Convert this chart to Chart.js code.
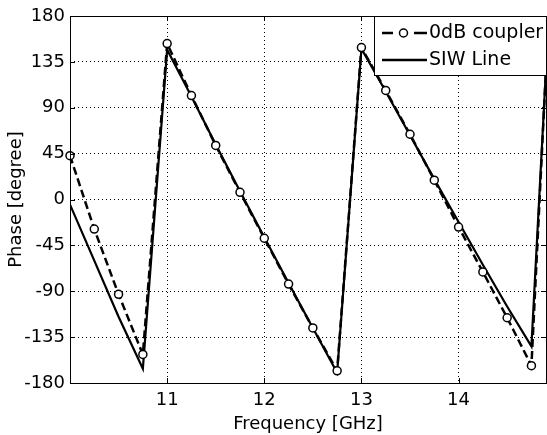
<!DOCTYPE html>
<html>
<head>
<meta charset="utf-8">
<script src="https://cdn.jsdelivr.net/npm/chart.js@4"></script>
<style>
html,body{margin:0;padding:0;background:#fff;}
#wrap{width:547px;height:435px;position:relative;}
</style>
</head>
<body>
<div id="wrap"><canvas id="c" width="547" height="435"></canvas></div>
<script>
const freqGHz = [10, 10.25, 10.5, 10.75, 11, 11.25, 11.5, 11.75, 12, 12.25, 12.5, 12.75, 13, 13.25, 13.5, 13.75, 14, 14.25, 14.5, 14.75, 14.9];
const couplerPhase = [43, -29, -93, -152, 153, 102, 53, 7, -38, -83, -126, -168, 149, 107, 64, 19, -27, -71, -116, -163, 128];
const siwPhase = [-5, -60, -115, -166, 147, 101, 54, 8, -37, -82, -126, -170, 148, 106, 63, 20, -22, -64, -105, -144, 128];
const xTicks = [11, 12, 13, 14];
const yTicks = [-180, -135, -90, -45, 0, 45, 90, 135, 180];
const seriesNames = ["0dB coupler", "SIW Line"];

const FONT = "'DejaVu Sans', sans-serif";
const toPts = (ys) => freqGHz.map((f, i) => ({x: f, y: ys[i]}));

const framePlugin = {
  id: 'frame',
  afterDatasetsDraw(chart) {
    const {ctx, chartArea: a, scales} = chart;
    ctx.save();
    ctx.strokeStyle = '#000';
    ctx.lineWidth = 1;
    ctx.setLineDash([]);
    ctx.beginPath();
    xTicks.forEach(t => {
      const px = Math.round(scales.x.getPixelForValue(t)) + 0.5;
      ctx.moveTo(px, a.bottom); ctx.lineTo(px, a.bottom - 5);
      ctx.moveTo(px, a.top); ctx.lineTo(px, a.top + 5);
    });
    yTicks.forEach(t => {
      const py = Math.round(scales.y.getPixelForValue(t)) + 0.5;
      ctx.moveTo(a.left, py); ctx.lineTo(a.left + 5, py);
      ctx.moveTo(a.right, py); ctx.lineTo(a.right - 5, py);
    });
    ctx.stroke();
    ctx.strokeRect(Math.round(a.left) + 0.5, Math.round(a.top) + 0.5, Math.round(a.right - a.left), Math.round(a.bottom - a.top));
    // legend
    const lx = 374, ly = Math.round(a.top), lw = Math.round(a.right) - lx, lh = 59;
    ctx.fillStyle = '#fff';
    ctx.fillRect(lx + 0.5, ly + 0.5, lw, lh);
    ctx.strokeRect(lx + 0.5, ly + 0.5, lw, lh);
    const rows = [ly + 17, ly + 44];
    ctx.lineWidth = 2.5;
    ctx.beginPath();
    ctx.moveTo(382, rows[0]); ctx.lineTo(393, rows[0]);
    ctx.moveTo(414, rows[0]); ctx.lineTo(427, rows[0]);
    ctx.stroke();
    ctx.lineWidth = 1.5;
    ctx.fillStyle = '#fff';
    ctx.beginPath(); ctx.arc(403.5, rows[0], 4, 0, Math.PI * 2); ctx.fill(); ctx.stroke();
    ctx.lineWidth = 2.5;
    ctx.beginPath(); ctx.moveTo(382, rows[1]); ctx.lineTo(427, rows[1]); ctx.stroke();
    ctx.fillStyle = '#000';
    ctx.font = '19px ' + FONT;
    ctx.textBaseline = 'middle';
    ctx.textAlign = 'left';
    ctx.fillText(seriesNames[0], 429, rows[0]);
    ctx.fillText(seriesNames[1], 429, rows[1]);
    ctx.restore();
  }
};

new Chart(document.getElementById('c'), {
  type: 'line',
  data: {
    datasets: [
      {
        label: seriesNames[0],
        data: toPts(couplerPhase),
        borderColor: '#000',
        borderWidth: 2.5,
        borderDash: [8, 4],
        pointRadius: freqGHz.map((f, i) => i === freqGHz.length - 1 ? 0 : 4),
        pointBorderWidth: 1.5,
        pointBorderColor: '#000',
        pointBackgroundColor: '#fff',
        tension: 0,
        fill: false,
        clip: 8
      },
      {
        label: seriesNames[1],
        data: toPts(siwPhase),
        borderColor: '#000',
        borderWidth: 2.2,
        pointRadius: 0,
        tension: 0,
        fill: false
      }
    ]
  },
  options: {
    responsive: false,
    animation: false,
    devicePixelRatio: 1,
    layout: {autoPadding: false, padding: {left: 0, right: 1, top: 16, bottom: 0}},
    plugins: {legend: {display: false}, tooltip: {enabled: false}},
    scales: {
      x: {
        type: 'linear',
        min: 10, max: 14.9,
        afterBuildTicks: (s) => { s.ticks = xTicks.map(v => ({value: v})); },
        afterFit: (s) => { s.height = 52; },
        ticks: {color: '#000', font: {family: FONT, size: 18}, padding: 7, maxRotation: 0},
        grid: {color: '#000', lineWidth: 1, drawTicks: false},
        border: {display: false, dash: [1, 3]},
        title: {display: true, text: 'Frequency [GHz]', color: '#000', font: {family: FONT, size: 18}, padding: {top: 0, bottom: 0}}
      },
      y: {
        min: -180, max: 180,
        afterBuildTicks: (s) => { s.ticks = yTicks.map(v => ({value: v})); },
        afterFit: (s) => { s.width = 70; },
        ticks: {color: '#000', font: {family: FONT, size: 18}, padding: 5},
        grid: {color: '#000', lineWidth: 1, drawTicks: false},
        border: {display: false, dash: [1, 3]},
        title: {display: true, text: 'Phase [degree]', color: '#000', font: {family: FONT, size: 18}, padding: {top: 6, bottom: 0}}
      }
    }
  },
  plugins: [framePlugin]
});
</script>
</body>
</html>
